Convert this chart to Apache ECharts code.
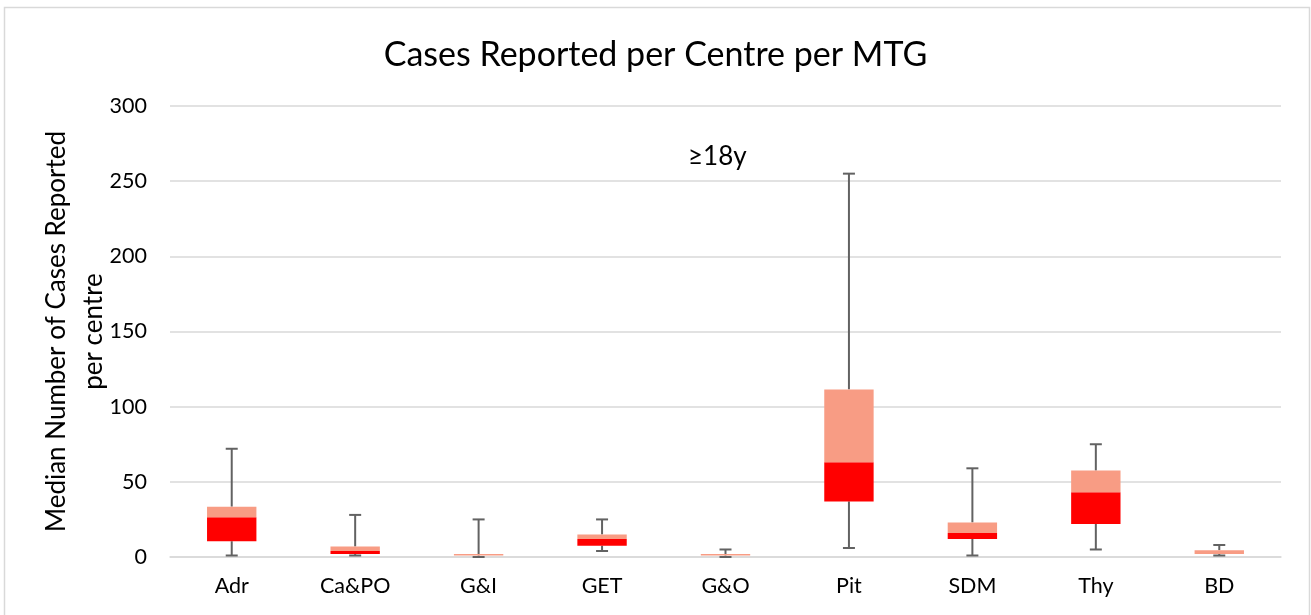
<!DOCTYPE html>
<html>
<head>
<meta charset="utf-8">
<script src="https://cdn.jsdelivr.net/npm/echarts@6/dist/echarts.min.js"></script>
<style>
  html, body { margin: 0; padding: 0; background: #fff; }
  #chart { width: 1311px; height: 615px; }
</style>
</head>
<body>
<div id="chart"></div>
<script>
// box plot values
const categories = ['Adr', 'Ca&PO', 'G&I', 'GET', 'G&O', 'Pit', 'SDM', 'Thy', 'BD']
const minVals = [1, 1, 0, 4, 0, 6, 1, 5, 1]
const q1Vals = [10.5, 2, 1, 7.5, 1, 37, 12, 22, 2]
const medianVals = [26.5, 4, 1, 12, 1, 63, 16, 43, 2]
const q3Vals = [33.5, 7, 2, 15, 2, 111.5, 23, 57.5, 4.5]
const maxVals = [72, 28, 25, 25, 5, 255, 59, 75, 8]
const yTicks = [0, 50, 100, 150, 200, 250, 300]

const font = 'Lato, "Open Sans", sans-serif'

const chart = echarts.init(document.getElementById('chart'))

const whiskerData = categories.map((c, i) => [i, minVals[i], q1Vals[i], q3Vals[i], maxVals[i]])

chart.setOption({
  backgroundColor: '#fff',
  animation: false,
  textStyle: { fontFamily: font },
  title: [
    {
      text: 'Cases Reported per Centre per MTG',
      left: 'center',
      top: 33,
      textStyle: { fontSize: 34, fontWeight: 'normal', color: '#000', fontFamily: font }
    },
    {
      text: '≥18y',
      left: 683,
      top: 139,
      textStyle: { fontSize: 26, fontWeight: 'normal', color: '#000', fontFamily: font }
    }
  ],
  graphic: [
    {
      type: 'rect',
      shape: { x: 4.5, y: 7.5, width: 1305, height: 620 },
      style: { fill: 'none', stroke: '#d9d9d9', lineWidth: 1.5 },
      silent: true
    }
  ],
  grid: {
    left: 170,
    right: 30,
    top: 106,
    bottom: 58
  },
  xAxis: {
    type: 'category',
    data: categories,
    axisLine: { lineStyle: { color: '#d9d9d9', width: 1.5 } },
    axisTick: { show: false },
    axisLabel: { fontSize: 21.5, color: '#000', margin: 18, fontFamily: font }
  },
  yAxis: {
    type: 'value',
    min: yTicks[0],
    max: yTicks[yTicks.length - 1],
    interval: 50,
    name: 'Median Number of Cases Reported\nper centre',
    nameLocation: 'middle',
    nameGap: 58,
    nameMoveOverlap: false,
    nameTextStyle: { fontSize: 26, color: '#000', lineHeight: 37, fontFamily: font },
    axisLine: { show: false },
    axisTick: { show: false },
    axisLabel: { fontSize: 21.5, color: '#000', margin: 23, fontFamily: font },
    splitLine: { lineStyle: { color: '#d9d9d9', width: 1.5 } }
  },
  series: [
    {
      type: 'custom',
      name: 'whiskers',
      z: 1,
      data: whiskerData,
      encode: { x: 0, y: [1, 2, 3, 4] },
      renderItem (params, api) {
        const i = api.value(0)
        const lo = api.coord([i, api.value(1)])
        const q1 = api.coord([i, api.value(2)])
        const q3 = api.coord([i, api.value(3)])
        const hi = api.coord([i, api.value(4)])
        const cap = 6
        const style = { stroke: '#626262', lineWidth: 2 }
        return {
          type: 'group',
          children: [
            { type: 'line', shape: { x1: lo[0], y1: lo[1], x2: q1[0], y2: q1[1] }, style },
            { type: 'line', shape: { x1: q3[0], y1: q3[1], x2: hi[0], y2: hi[1] }, style },
            { type: 'line', shape: { x1: lo[0] - cap, y1: lo[1], x2: lo[0] + cap, y2: lo[1] }, style },
            { type: 'line', shape: { x1: hi[0] - cap, y1: hi[1], x2: hi[0] + cap, y2: hi[1] }, style }
          ]
        }
      }
    },
    {
      type: 'bar',
      name: 'base',
      stack: 'box',
      barWidth: '40%',
      z: 2,
      itemStyle: { color: 'transparent' },
      data: q1Vals
    },
    {
      type: 'bar',
      name: 'lower',
      stack: 'box',
      z: 2,
      itemStyle: { color: '#ff0000' },
      data: medianVals.map((m, i) => m - q1Vals[i])
    },
    {
      type: 'bar',
      name: 'upper',
      stack: 'box',
      z: 2,
      itemStyle: { color: '#f89c84' },
      data: q3Vals.map((q, i) => q - medianVals[i])
    }
  ]
})
</script>
</body>
</html>
